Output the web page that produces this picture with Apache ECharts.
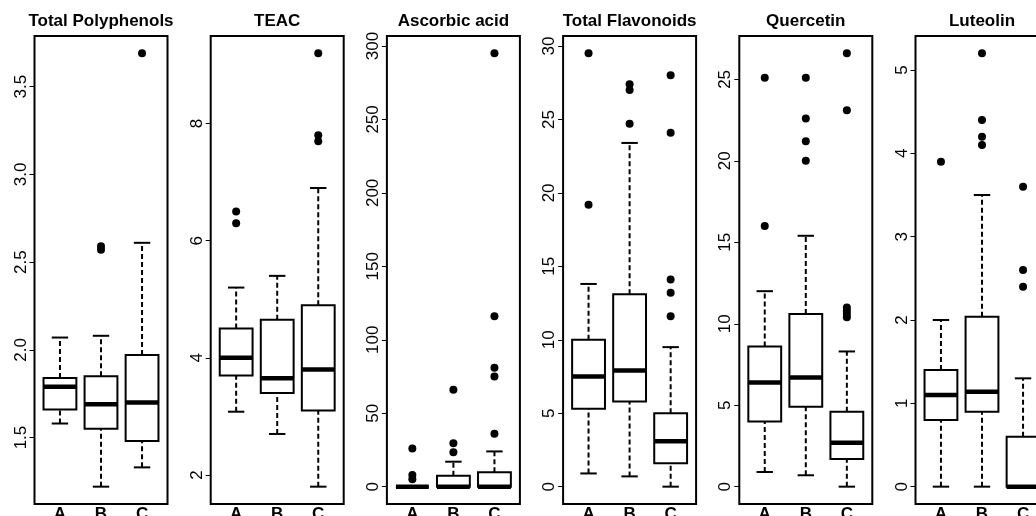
<!DOCTYPE html>
<html>
<head>
<meta charset="utf-8">
<script src="https://cdn.jsdelivr.net/npm/echarts@6/dist/echarts.min.js"></script>
<style>
html, body { margin: 0; padding: 0; background: #fff; }
#main { width: 1036px; height: 516px; }
</style>
</head>
<body>
<div id="main"></div>
<script>
var groups = ['A', 'B', 'C'];
var titles = ['Total Polyphenols', 'TEAC', 'Ascorbic acid', 'Total Flavonoids', 'Quercetin', 'Luteolin'];

// each row: [lower whisker, Q1, median, Q3, upper whisker] for A, B, C
var polyphenolsStats = [[1.58, 1.66, 1.79, 1.84, 2.07], [1.22, 1.55, 1.69, 1.85, 2.08], [1.33, 1.48, 1.70, 1.97, 2.61]];
var polyphenolsOutliers = [[], [2.57, 2.59], [3.69]];
var polyphenolsTicks = [1.5, 2.0, 2.5, 3.0, 3.5];

var teacStats = [[3.08, 3.70, 4.00, 4.50, 5.20], [2.70, 3.40, 3.65, 4.65, 5.40], [1.80, 3.10, 3.80, 4.90, 6.90]];
var teacOutliers = [[6.3, 6.5], [], [7.7, 7.8, 9.2]];
var teacTicks = [2, 4, 6, 8];

var ascorbicStats = [[0, 0, 0, 0, 0], [0, 0, 0, 7.5, 17], [0, 0, 0, 9.8, 24]];
var ascorbicOutliers = [[5, 8, 26], [23.5, 29.5, 66], [36, 75, 81, 116, 295]];
var ascorbicTicks = [0, 50, 100, 150, 200, 250, 300];

var flavonoidsStats = [[0.9, 5.3, 7.5, 10.0, 13.8], [0.7, 5.8, 7.9, 13.1, 23.4], [0, 1.6, 3.1, 5.0, 9.5]];
var flavonoidsOutliers = [[19.2, 29.5], [24.7, 27.0, 27.4], [11.6, 13.2, 14.1, 24.1, 28.0]];
var flavonoidsTicks = [0, 5, 10, 15, 20, 25, 30];

var quercetinStats = [[0.9, 4.0, 6.4, 8.6, 12.0], [0.7, 4.9, 6.7, 10.6, 15.4], [0, 1.7, 2.7, 4.6, 8.3]];
var quercetinOutliers = [[16.0, 25.1], [20.0, 21.2, 22.6, 25.1], [10.4, 10.6, 10.8, 11.0, 23.1, 26.6]];
var quercetinTicks = [0, 5, 10, 15, 20, 25];

var luteolinStats = [[0, 0.8, 1.1, 1.4, 2.0], [0, 0.9, 1.14, 2.04, 3.5], [0, 0, 0, 0.6, 1.3]];
var luteolinOutliers = [[3.9], [4.1, 4.2, 4.4, 5.2], [2.4, 2.6, 3.6]];
var luteolinTicks = [0, 1, 2, 3, 4, 5];

var panels = [
    { stats: polyphenolsStats, out: polyphenolsOutliers, ticks: polyphenolsTicks, digits: 1 },
    { stats: teacStats, out: teacOutliers, ticks: teacTicks, digits: 0 },
    { stats: ascorbicStats, out: ascorbicOutliers, ticks: ascorbicTicks, digits: 0 },
    { stats: flavonoidsStats, out: flavonoidsOutliers, ticks: flavonoidsTicks, digits: 0 },
    { stats: quercetinStats, out: quercetinOutliers, ticks: quercetinTicks, digits: 0 },
    { stats: luteolinStats, out: luteolinOutliers, ticks: luteolinTicks, digits: 0 }
];

var FONT = 'Liberation Sans, Arial, sans-serif';
var gridLeft = 34.5, gridStep = 176.2, gridWidth = 133, gridTop = 36, gridHeight = 468;

function renderBox(params, api) {
    var x = api.value(0);
    var lo = api.value(1), q1 = api.value(2), med = api.value(3), q3 = api.value(4), hi = api.value(5);
    var p = function (a, b) { return api.coord([a, b]); };
    var solid = { stroke: '#000', lineWidth: 2 };
    var dashed = { stroke: '#000', lineWidth: 2, lineDash: [5, 3] };
    var seg = function (a, b, style) {
        return { type: 'line', shape: { x1: a[0], y1: a[1], x2: b[0], y2: b[1] }, style: style };
    };
    var topLeft = p(x - 0.4, q3), botRight = p(x + 0.4, q1);
    return {
        type: 'group',
        children: [
            seg(p(x, lo), p(x, q1), dashed),
            seg(p(x, q3), p(x, hi), dashed),
            seg(p(x - 0.2, lo), p(x + 0.2, lo), solid),
            seg(p(x - 0.2, hi), p(x + 0.2, hi), solid),
            {
                type: 'rect',
                shape: { x: topLeft[0], y: topLeft[1], width: botRight[0] - topLeft[0], height: botRight[1] - topLeft[1] },
                style: { fill: '#fff', stroke: '#000', lineWidth: 2 }
            },
            seg(p(x - 0.4, med), p(x + 0.4, med), { stroke: '#000', lineWidth: 4.5 })
        ]
    };
}

var option = { animation: false, backgroundColor: '#fff', title: [], grid: [], xAxis: [], yAxis: [], series: [] };

panels.forEach(function (pn, i) {
    var all = [];
    pn.stats.forEach(function (s) { all = all.concat(s); });
    pn.out.forEach(function (o) { all = all.concat(o); });
    var lo = Math.min.apply(null, all), hi = Math.max.apply(null, all);
    var pad = (hi - lo) * 0.04;
    var left = gridLeft + gridStep * i;

    option.title.push({
        text: titles[i],
        left: left + gridWidth / 2,
        top: 13,
        padding: 0,
        textAlign: 'center',
        textStyle: { fontFamily: FONT, fontSize: 17, fontWeight: 'bold', color: '#000' }
    });
    option.grid.push({
        left: left, top: gridTop, width: gridWidth, height: gridHeight,
        outerBoundsMode: 'none', containLabel: false,
        show: true, borderColor: '#000', borderWidth: 2, backgroundColor: 'transparent'
    });
    option.xAxis.push({
        type: 'value', gridIndex: i, min: 0.38, max: 3.62,
        axisLine: { show: false },
        splitLine: { show: false },
        axisTick: { show: false },
        axisLabel: {
            customValues: [1, 2, 3],
            margin: 2,
            formatter: function (v) { return groups[Math.round(v) - 1]; },
            fontFamily: FONT, fontSize: 17, fontWeight: 'bold', color: '#000'
        }
    });
    option.yAxis.push({
        type: 'value', gridIndex: i, min: lo - pad, max: hi + pad,
        axisLine: { show: false },
        splitLine: { show: false },
        axisTick: { show: true, customValues: pn.ticks, length: 5, lineStyle: { color: '#000', width: 1 } },
        axisLabel: {
            customValues: pn.ticks,
            rotate: 90,
            margin: 5,
            formatter: function (v) { return v.toFixed(pn.digits); },
            fontFamily: FONT, fontSize: 17, color: '#000'
        }
    });
    option.series.push({
        type: 'custom',
        xAxisIndex: i, yAxisIndex: i,
        renderItem: renderBox,
        encode: { x: 0, y: [1, 2, 3, 4, 5] },
        data: pn.stats.map(function (s, g) { return [g + 1].concat(s); })
    });
    var pts = [];
    pn.out.forEach(function (o, g) { o.forEach(function (v) { pts.push([g + 1, v]); }); });
    option.series.push({
        type: 'scatter',
        xAxisIndex: i, yAxisIndex: i,
        symbol: 'circle', symbolSize: 8,
        itemStyle: { color: '#000', opacity: 1 },
        data: pts
    });
});

var chart = echarts.init(document.getElementById('main'));
chart.setOption(option);
</script>
</body>
</html>
